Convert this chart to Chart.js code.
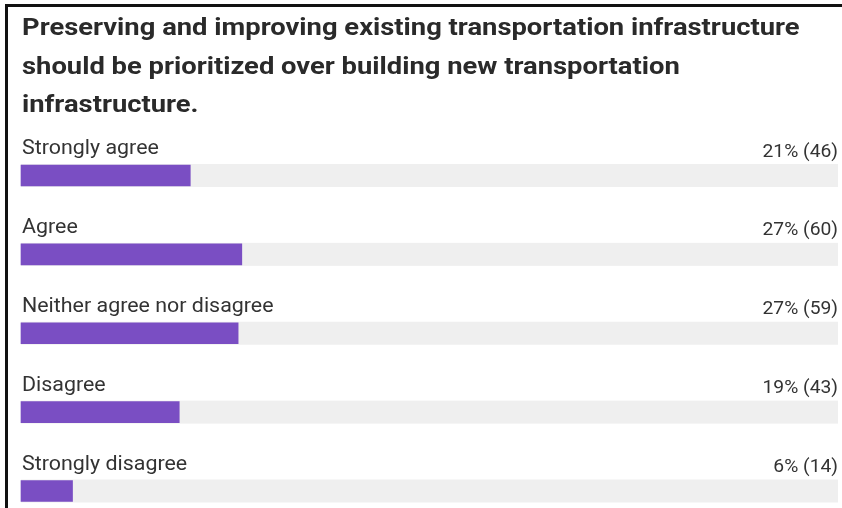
<!DOCTYPE html>
<html>
<head>
<meta charset="utf-8">
<script src="https://cdn.jsdelivr.net/npm/chart.js@4.4.1/dist/chart.umd.min.js"></script>
<style>
  html, body { margin: 0; padding: 0; background: #fff; }
  #frame {
    position: absolute; left: 5px; top: 4px;
    border-left: 3px solid #111; border-top: 3px solid #111;
    width: 834px; height: 501px;
  }
  canvas { display: block; }
</style>
</head>
<body>
<div id="frame"><canvas id="poll" width="834" height="501"></canvas></div>
<script>
// Survey question and answer options
const questionLines = [
  'Preserving and improving existing transportation infrastructure',
  'should be prioritized over building new transportation',
  'infrastructure.'
];
const categories = ['Strongly agree', 'Agree', 'Neither agree nor disagree', 'Disagree', 'Strongly disagree'];
// Share of respondents (%) and response counts per option
const percents = [21, 27, 27, 19, 6];
const counts = [46, 60, 59, 43, 14];

const totalResponses = counts.reduce((a, b) => a + b, 0);

const BAR_COLOR = '#7a4ec3';
const TRACK_COLOR = '#efefef';
const TEXT_COLOR = '#333333';
const TITLE_COLOR = '#2a2a2a';

// Text in this poll style is set slightly wide; draw it with a horizontal stretch
function wideText(ctx, text, x, y, align, stretch) {
  ctx.save();
  ctx.translate(x, y);
  ctx.scale(stretch, 1);
  ctx.textAlign = align;
  ctx.textBaseline = 'alphabetic';
  ctx.fillText(text, 0, 0);
  ctx.restore();
}

// Question heading, grey full-width tracks, option names and result text
const pollDecor = {
  id: 'pollDecor',
  beforeDatasetsDraw(chart) {
    const { ctx, chartArea } = chart;
    const meta = chart.getDatasetMeta(0);
    ctx.save();
    ctx.fillStyle = TRACK_COLOR;
    meta.data.forEach(bar => {
      const h = bar.height + 2;
      ctx.fillRect(chartArea.left, bar.y - h / 2, chartArea.right - chartArea.left, h);
    });
    ctx.restore();
  },
  afterDatasetsDraw(chart) {
    const { ctx, chartArea } = chart;
    const meta = chart.getDatasetMeta(0);
    ctx.save();
    ctx.fillStyle = TITLE_COLOR;
    ctx.font = 'bold 24px Roboto';
    questionLines.forEach((line, i) => {
      wideText(ctx, line, chartArea.left + 1, 28 + i * 38.5, 'left', 1.14);
    });
    ctx.fillStyle = TEXT_COLOR;
    meta.data.forEach((bar, i) => {
      ctx.font = '20px Roboto';
      wideText(ctx, categories[i], chartArea.left + 1, bar.y - 21.5, 'left', 1.07);
      ctx.font = '18px Roboto';
      wideText(ctx, percents[i] + '% (' + counts[i] + ')', chartArea.right, bar.y - 19, 'right', 1.07);
    });
    ctx.restore();
  }
};

new Chart(document.getElementById('poll'), {
  type: 'bar',
  data: {
    labels: categories,
    datasets: [{
      data: counts,
      backgroundColor: BAR_COLOR,
      borderWidth: 0,
      barThickness: 21,
      clip: false
    }]
  },
  options: {
    indexAxis: 'y',
    responsive: false,
    animation: false,
    events: [],
    layout: { padding: { left: 13, right: 4, top: 168.5, bottom: 17 } },
    scales: {
      x: { display: false, min: 0, max: totalResponses },
      y: { display: false, offset: false }
    },
    plugins: {
      legend: { display: false },
      tooltip: { enabled: false },
      title: { display: false }
    }
  },
  plugins: [pollDecor]
});
</script>
</body>
</html>
